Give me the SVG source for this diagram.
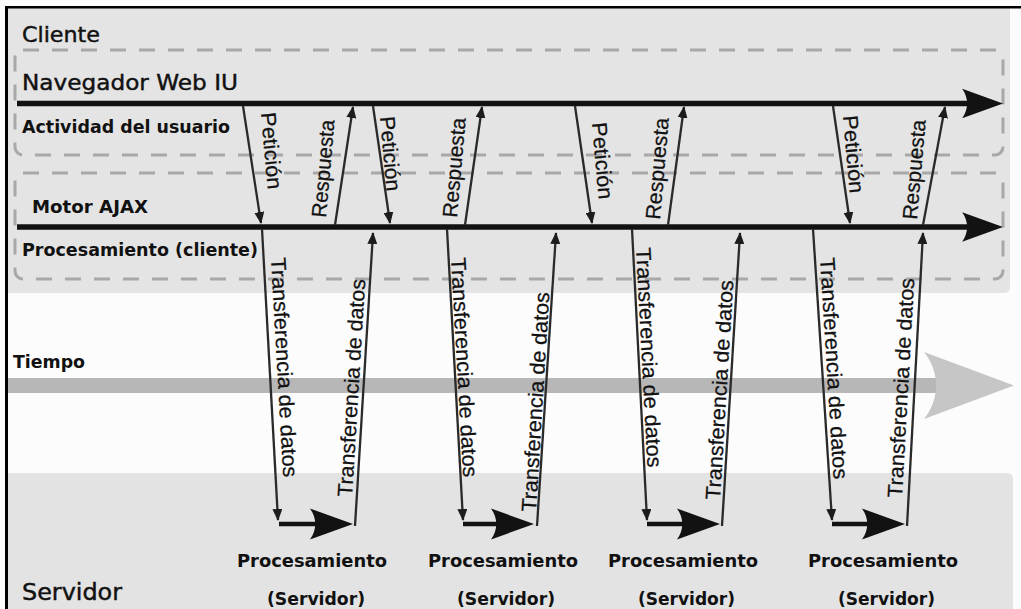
<svg xmlns="http://www.w3.org/2000/svg" xmlns:xlink="http://www.w3.org/1999/xlink" width="1021" height="609" viewBox="0 0 1021 609">
  <style>
    .lane { fill: none; stroke: #a8a8a8; stroke-width: 3; stroke-dasharray: 16 13; }
    .axis { fill: none; stroke: #121212; stroke-width: 5.5; }
    .msg { fill: none; stroke: #2a2a2a; stroke-width: 2.3; marker-end: url(#tip); }
    .proc { fill: none; stroke: #121212; stroke-width: 4.5; }
    .big { fill: #121212; }
    .reg { font-family: "DejaVu Sans", "Liberation Sans", sans-serif; fill: #111; stroke: #111; stroke-width: 0.45; }
    .bold { font-family: "DejaVu Sans", "Liberation Sans", sans-serif; font-weight: bold; fill: #111; }
    .rot { font-family: "Liberation Sans", Arial, sans-serif; font-size: 21px; fill: #111; stroke: #111; stroke-width: 0.25; }
  </style>
  <defs>
    <marker id="tip" viewBox="0 0 12 10" refX="11" refY="5" markerWidth="12" markerHeight="10" markerUnits="userSpaceOnUse" orient="auto">
      <path d="M0,0 L12,5 L0,10 Z" fill="#1c1c1c"/>
    </marker>
    <!-- swept arrowhead, tip at the origin pointing +x -->
    <path id="head" d="M0,0 L-43,-15.5 C-36,-6 -36,6 -43,15.5 Z"/>
  </defs>

  <!-- page background -->
  <rect x="0" y="0" width="1021" height="609" fill="#fcfcfc"/>

  <!-- client lane -->
  <g id="client">
    <path d="M8,8 H1010 V287 Q1010,293 1004,293 H8 Z" fill="#e4e4e4"/>
    <rect class="lane" x="15" y="50" width="988" height="105" rx="8"/>
    <rect class="lane" x="15" y="173" width="988" height="106" rx="8"/>
    <text class="reg" x="22" y="42" font-size="22" textLength="78" lengthAdjust="spacingAndGlyphs">Cliente</text>
  </g>

  <!-- server lane -->
  <g id="server">
    <path d="M8,473 H1007 Q1013,473 1013,479 V609 H8 Z" fill="#e3e3e3"/>
    <text class="reg" x="22" y="600" font-size="23" textLength="100" lengthAdjust="spacingAndGlyphs">Servidor</text>
  </g>

  <!-- time axis -->
  <g id="time">
    <rect x="8" y="378" width="940" height="15" fill="#b7b7b7"/>
    <path d="M1014,385.5 L924,352 C940,372 940,399 924,419 Z" fill="#c6c6c6"/>
    <text class="bold" x="13" y="368" font-size="17" textLength="72" lengthAdjust="spacingAndGlyphs">Tiempo</text>
  </g>

  <!-- browser UI timeline -->
  <g id="browser-ui">
    <line class="axis" x1="17" y1="103.5" x2="975" y2="103.5"/>
    <use xlink:href="#head" class="big" transform="translate(1003,103.5) scale(0.95)"/>
    <text class="reg" x="22" y="90" font-size="22" textLength="216" lengthAdjust="spacingAndGlyphs">Navegador Web IU</text>
    <text class="bold" x="22" y="133" font-size="17" textLength="208" lengthAdjust="spacingAndGlyphs">Actividad del usuario</text>
  </g>

  <!-- AJAX engine timeline -->
  <g id="ajax-engine">
    <line class="axis" x1="17" y1="227" x2="975" y2="227"/>
    <use xlink:href="#head" class="big" transform="translate(1003,227) scale(0.95)"/>
    <text class="bold" x="32" y="213" font-size="17" textLength="116" lengthAdjust="spacingAndGlyphs">Motor AJAX</text>
    <text class="bold" x="22" y="256" font-size="17" textLength="236" lengthAdjust="spacingAndGlyphs">Procesamiento (cliente)</text>
  </g>

  <!-- server processing nodes -->
  <g id="proc-1">
    <line class="proc" x1="279" y1="524" x2="322" y2="524"/>
    <use xlink:href="#head" class="big" transform="translate(353,524)"/>
    <text class="bold" x="237" y="567" font-size="18" textLength="150" lengthAdjust="spacingAndGlyphs">Procesamiento</text>
    <text class="bold" x="267" y="605" font-size="18" textLength="98" lengthAdjust="spacingAndGlyphs">(Servidor)</text>
  </g>
  <g id="proc-2">
    <line class="proc" x1="463" y1="524" x2="503" y2="524"/>
    <use xlink:href="#head" class="big" transform="translate(534,524)"/>
    <text class="bold" x="428" y="567" font-size="18" textLength="150" lengthAdjust="spacingAndGlyphs">Procesamiento</text>
    <text class="bold" x="457" y="605" font-size="18" textLength="98" lengthAdjust="spacingAndGlyphs">(Servidor)</text>
  </g>
  <g id="proc-3">
    <line class="proc" x1="647" y1="524" x2="690" y2="524"/>
    <use xlink:href="#head" class="big" transform="translate(720,524)"/>
    <text class="bold" x="608" y="567" font-size="18" textLength="150" lengthAdjust="spacingAndGlyphs">Procesamiento</text>
    <text class="bold" x="638" y="605" font-size="18" textLength="97" lengthAdjust="spacingAndGlyphs">(Servidor)</text>
  </g>
  <g id="proc-4">
    <line class="proc" x1="832" y1="524" x2="875" y2="524"/>
    <use xlink:href="#head" class="big" transform="translate(905,524)"/>
    <text class="bold" x="808" y="567" font-size="18" textLength="150" lengthAdjust="spacingAndGlyphs">Procesamiento</text>
    <text class="bold" x="838" y="605" font-size="18" textLength="97" lengthAdjust="spacingAndGlyphs">(Servidor)</text>
  </g>

  <!-- request / response / transfer connectors -->
  <g id="connectors">
    <!-- cycle 1 -->
    <line class="msg" x1="243" y1="106" x2="261" y2="223"/>
    <line class="msg" x1="335" y1="225" x2="353" y2="107"/>
    <line class="msg" x1="262" y1="229" x2="278" y2="520"/>
    <line class="msg" x1="355" y1="526" x2="373" y2="233"/>
    <!-- cycle 2 -->
    <line class="msg" x1="373" y1="106" x2="390" y2="223"/>
    <line class="msg" x1="465" y1="225" x2="482" y2="107"/>
    <line class="msg" x1="447" y1="229" x2="463" y2="520"/>
    <line class="msg" x1="537" y1="526" x2="556" y2="233"/>
    <!-- cycle 3 -->
    <line class="msg" x1="575" y1="106" x2="592" y2="223"/>
    <line class="msg" x1="668" y1="225" x2="684" y2="107"/>
    <line class="msg" x1="632" y1="229" x2="647" y2="520"/>
    <line class="msg" x1="722" y1="526" x2="740" y2="233"/>
    <!-- cycle 4 -->
    <line class="msg" x1="833" y1="106" x2="850" y2="223"/>
    <line class="msg" x1="923" y1="225" x2="945" y2="107"/>
    <line class="msg" x1="813" y1="229" x2="832" y2="520"/>
    <line class="msg" x1="907" y1="526" x2="923" y2="233"/>

    <!-- connector labels -->
    <text class="rot" transform="translate(261,113) rotate(85)" textLength="77" lengthAdjust="spacingAndGlyphs">Petición</text>
    <text class="rot" transform="translate(326,218) rotate(-85)" textLength="98" lengthAdjust="spacingAndGlyphs">Respuesta</text>
    <text class="rot" transform="translate(271,258) rotate(86.8)" textLength="220" lengthAdjust="spacingAndGlyphs">Transferencia de datos</text>
    <text class="rot" transform="translate(352,497) rotate(-86.5)" textLength="218" lengthAdjust="spacingAndGlyphs">Transferencia de datos</text>

    <text class="rot" transform="translate(380,117) rotate(85)" textLength="75" lengthAdjust="spacingAndGlyphs">Petición</text>
    <text class="rot" transform="translate(457,218) rotate(-85)" textLength="100" lengthAdjust="spacingAndGlyphs">Respuesta</text>
    <text class="rot" transform="translate(451,258) rotate(86.8)" textLength="220" lengthAdjust="spacingAndGlyphs">Transferencia de datos</text>
    <text class="rot" transform="translate(536,512) rotate(-86.5)" textLength="220" lengthAdjust="spacingAndGlyphs">Transferencia de datos</text>

    <text class="rot" transform="translate(592,123) rotate(85)" textLength="77" lengthAdjust="spacingAndGlyphs">Petición</text>
    <text class="rot" transform="translate(660,220) rotate(-85)" textLength="102" lengthAdjust="spacingAndGlyphs">Respuesta</text>
    <text class="rot" transform="translate(636,248) rotate(87)" textLength="220" lengthAdjust="spacingAndGlyphs">Transferencia de datos</text>
    <text class="rot" transform="translate(720,500) rotate(-86.5)" textLength="220" lengthAdjust="spacingAndGlyphs">Transferencia de datos</text>

    <text class="rot" transform="translate(843,116) rotate(85)" textLength="78" lengthAdjust="spacingAndGlyphs">Petición</text>
    <text class="rot" transform="translate(917,220) rotate(-85)" textLength="100" lengthAdjust="spacingAndGlyphs">Respuesta</text>
    <text class="rot" transform="translate(820,258) rotate(86.5)" textLength="222" lengthAdjust="spacingAndGlyphs">Transferencia de datos</text>
    <text class="rot" transform="translate(902,498) rotate(-86.8)" textLength="220" lengthAdjust="spacingAndGlyphs">Transferencia de datos</text>
  </g>

  <!-- outer frame edges -->
  <rect x="5" y="6" width="1016" height="2.5" fill="#000"/>
  <rect x="5" y="6" width="3" height="603" fill="#000"/>
</svg>
